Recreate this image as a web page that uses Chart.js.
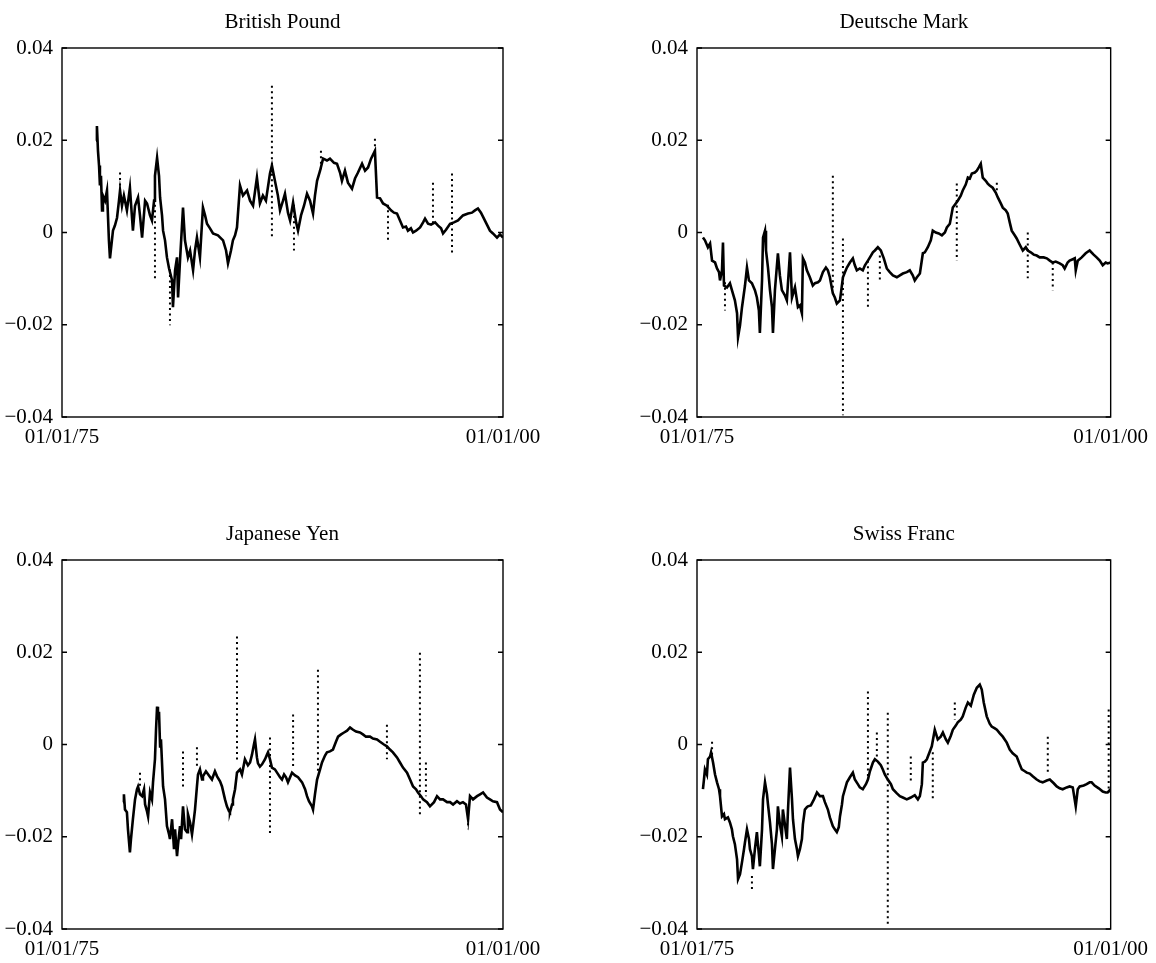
<!DOCTYPE html>
<html>
<head>
<meta charset="utf-8">
<script src="https://cdn.jsdelivr.net/npm/chart.js@4"></script>
<style>
  body { margin: 0; background: #fff; }
  canvas { position: absolute; }
</style>
</head>
<body>
<canvas id="bp" width="578" height="481" style="left:0;top:0"></canvas>
<canvas id="dm" width="578" height="481" style="left:578px;top:0"></canvas>
<canvas id="jy" width="578" height="481" style="left:0;top:512px"></canvas>
<canvas id="sf" width="578" height="481" style="left:578px;top:512px"></canvas>
<script>
// axis ticks
const xTickValues = [1975, 2000];
const xTickLabels = ['01/01/75', '01/01/00'];
const yTickValues = [-0.04, -0.02, 0, 0.02, 0.04];
const yTickLabels = ['\u22120.04', '\u22120.02', '0', '0.02', '0.04'];

// British Pound
const bpDates = [1976.93,1976.98,1977.04,1977.10,1977.15,1977.21,1977.27,1977.32,1977.44,1977.55,
  1977.66,1977.72,1977.83,1977.89,1978.00,1978.12,1978.23,1978.29,1978.40,1978.51,
  1978.68,1978.85,1979.02,1979.14,1979.31,1979.42,1979.54,1979.71,1979.82,1979.99,
  1980.10,1980.22,1980.27,1980.39,1980.50,1980.56,1980.67,1980.73,1980.84,1980.95,
  1981.07,1981.24,1981.29,1981.41,1981.52,1981.58,1981.69,1981.86,1981.97,1982.14,
  1982.26,1982.43,1982.54,1982.65,1982.82,1982.99,1983.11,1983.22,1983.39,1983.56,
  1983.84,1984.13,1984.30,1984.41,1984.58,1984.69,1984.81,1984.92,1985.09,1985.26,
  1985.49,1985.66,1985.83,1986.05,1986.22,1986.39,1986.56,1986.79,1986.90,1987.07,
  1987.24,1987.36,1987.53,1987.64,1987.81,1987.93,1988.10,1988.27,1988.38,1988.55,
  1988.72,1988.89,1989.06,1989.23,1989.34,1989.46,1989.63,1989.80,1990.02,1990.19,
  1990.42,1990.59,1990.76,1990.87,1991.04,1991.21,1991.44,1991.61,1991.78,1992.01,
  1992.18,1992.35,1992.52,1992.74,1992.86,1993.03,1993.20,1993.42,1993.65,1993.82,
  1993.99,1994.16,1994.33,1994.50,1994.61,1994.78,1994.90,1995.07,1995.30,1995.47,
  1995.58,1995.75,1995.92,1996.15,1996.32,1996.49,1996.60,1996.77,1997.00,1997.22,
  1997.45,1997.73,1998.02,1998.24,1998.41,1998.58,1998.75,1998.92,1999.09,1999.26,
  1999.43,1999.66,1999.83,2000.00];
const bpValues = [0.0199,0.0231,0.0177,0.0145,0.0102,0.0123,0.0048,0.0080,0.0069,0.0091,
  -0.0017,-0.0056,-0.0017,0.0004,0.0015,0.0032,0.0069,0.0091,0.0058,0.0080,
  0.0048,0.0097,0.0004,0.0058,0.0076,0.0037,-0.0011,0.0069,0.0063,0.0037,
  0.0026,0.0069,0.0123,0.0162,0.0123,0.0076,0.0037,0.0004,-0.0017,-0.0054,
  -0.0078,-0.0104,-0.0162,-0.0082,-0.0054,-0.0141,-0.0061,0.0054,-0.0017,-0.0054,
  -0.0039,-0.0082,-0.0039,-0.0011,-0.0054,0.0054,0.0037,0.0019,0.0009,-0.0002,
  -0.0006,-0.0017,-0.0039,-0.0067,-0.0039,-0.0017,-0.0006,0.0011,0.0102,0.0080,
  0.0091,0.0069,0.0058,0.0119,0.0063,0.0080,0.0069,0.0128,0.0145,0.0112,
  0.0080,0.0048,0.0069,0.0084,0.0043,0.0026,0.0065,0.0022,0.0004,0.0037,
  0.0058,0.0084,0.0069,0.0041,0.0080,0.0112,0.0134,0.0160,0.0156,0.0160,
  0.0151,0.0149,0.0130,0.0112,0.0134,0.0108,0.0095,0.0117,0.0130,0.0149,
  0.0134,0.0141,0.0160,0.0177,0.0076,0.0074,0.0063,0.0058,0.0048,0.0043,
  0.0041,0.0026,0.0011,0.0013,0.0004,0.0009,0,0.0004,0.0011,0.0022,
  0.0030,0.0019,0.0017,0.0022,0.0015,0.0009,-0.0002,0.0006,0.0019,0.0022,
  0.0026,0.0037,0.0041,0.0043,0.0048,0.0052,0.0043,0.0030,0.0017,0.0004,
  -0.0002,-0.0011,-0.0004,-0.0011];
const bpSpikeDates = [1978.29, 1980.27, 1981.12, 1986.90, 1988.15, 1989.68, 1992.74, 1993.48, 1996.03, 1997.11];
const bpSpikeHigh = [0.0130, 0.0060, -0.0080, 0.0318, 0.0060, 0.0177, 0.0203, 0.0060, 0.0108, 0.0128];
const bpSpikeLow = [0.0090, -0.0104, -0.0201, -0.0013, -0.0039, 0.0130, 0.0160, -0.0017, 0.0020, -0.0045];

// Deutsche Mark
const dmDates = [1975.36,1975.48,1975.66,1975.79,1975.91,1976.09,1976.21,1976.33,1976.39,1976.51,
  1976.57,1976.63,1976.81,1976.99,1977.11,1977.29,1977.42,1977.48,1977.60,1977.72,
  1977.90,1978.02,1978.14,1978.32,1978.50,1978.62,1978.74,1978.80,1978.93,1978.99,
  1979.11,1979.17,1979.29,1979.41,1979.53,1979.59,1979.71,1979.89,1980.01,1980.13,
  1980.31,1980.43,1980.62,1980.74,1980.92,1981.10,1981.22,1981.34,1981.40,1981.52,
  1981.64,1981.82,1982.00,1982.13,1982.31,1982.43,1982.61,1982.79,1982.91,1983.03,
  1983.21,1983.33,1983.45,1983.64,1983.82,1983.94,1984.06,1984.24,1984.42,1984.54,
  1984.66,1984.84,1985.02,1985.15,1985.33,1985.45,1985.63,1985.75,1985.93,1986.11,
  1986.29,1986.47,1986.65,1986.84,1987.08,1987.26,1987.44,1987.68,1987.86,1988.04,
  1988.16,1988.29,1988.47,1988.65,1988.77,1988.95,1989.13,1989.25,1989.43,1989.61,
  1989.80,1989.98,1990.10,1990.28,1990.46,1990.64,1990.76,1990.94,1991.06,1991.24,
  1991.37,1991.49,1991.61,1991.79,1991.91,1992.03,1992.15,1992.27,1992.45,1992.57,
  1992.69,1992.87,1993.06,1993.18,1993.36,1993.48,1993.66,1993.78,1993.90,1994.02,
  1994.20,1994.32,1994.50,1994.69,1994.87,1994.99,1995.17,1995.35,1995.53,1995.71,
  1995.95,1996.14,1996.32,1996.50,1996.68,1996.92,1997.10,1997.22,1997.40,1997.52,
  1997.71,1997.83,1997.89,1998.01,1998.25,1998.49,1998.73,1998.97,1999.15,1999.34,
  1999.52,1999.70,1999.82,2000.00];
const dmValues = [-0.0011,-0.0017,-0.0032,-0.0024,-0.0061,-0.0065,-0.0078,-0.0086,-0.0104,-0.0082,
  -0.0022,-0.0115,-0.0119,-0.0110,-0.0125,-0.0147,-0.0175,-0.0227,-0.0201,-0.0162,
  -0.0115,-0.0076,-0.0104,-0.0110,-0.0125,-0.0141,-0.0169,-0.0218,-0.0104,-0.0011,
  0.0004,-0.0039,-0.0076,-0.0125,-0.0162,-0.0218,-0.0125,-0.0045,-0.0093,-0.0125,
  -0.0136,-0.0147,-0.0043,-0.0141,-0.0119,-0.0162,-0.0158,-0.0175,-0.0056,-0.0065,
  -0.0082,-0.0097,-0.0115,-0.0110,-0.0108,-0.0104,-0.0086,-0.0076,-0.0082,-0.0097,
  -0.0132,-0.0141,-0.0154,-0.0147,-0.0097,-0.0086,-0.0076,-0.0065,-0.0056,-0.0071,
  -0.0082,-0.0078,-0.0082,-0.0071,-0.0061,-0.0054,-0.0043,-0.0039,-0.0032,-0.0039,
  -0.0056,-0.0078,-0.0086,-0.0093,-0.0097,-0.0093,-0.0089,-0.0086,-0.0082,-0.0093,
  -0.0104,-0.0097,-0.0089,-0.0045,-0.0043,-0.0032,-0.0017,0.0004,0,-0.0002,
  -0.0006,0,0.0011,0.0019,0.0054,0.0063,0.0069,0.0080,0.0091,0.0104,
  0.0119,0.0117,0.0128,0.0130,0.0134,0.0141,0.0149,0.0119,0.0112,0.0106,
  0.0102,0.0097,0.0086,0.0076,0.0063,0.0054,0.0048,0.0041,0.0022,0.0004,
  -0.0006,-0.0013,-0.0026,-0.0039,-0.0032,-0.0039,-0.0043,-0.0048,-0.0050,-0.0054,
  -0.0054,-0.0056,-0.0061,-0.0065,-0.0063,-0.0067,-0.0071,-0.0078,-0.0065,-0.0061,
  -0.0058,-0.0056,-0.0082,-0.0061,-0.0054,-0.0045,-0.0039,-0.0048,-0.0054,-0.0061,
  -0.0071,-0.0065,-0.0067,-0.0065];
const dmSpikeDates = [1976.69, 1983.21, 1983.82, 1985.33, 1986.05, 1990.70, 1993.12, 1994.99, 1996.50];
const dmSpikeHigh = [-0.0108, 0.0123, -0.0013, -0.0061, -0.0050, 0.0106, 0.0108, 0, -0.0065];
const dmSpikeLow = [-0.0169, -0.0125, -0.0396, -0.0162, -0.0104, -0.0061, 0.0086, -0.0099, -0.0125];

// Japanese Yen
const jyDates = [1978.46,1978.51,1978.57,1978.68,1978.74,1978.85,1978.91,1979.02,1979.14,1979.25,
  1979.31,1979.42,1979.54,1979.65,1979.71,1979.82,1979.88,1979.99,1980.10,1980.16,
  1980.27,1980.33,1980.39,1980.44,1980.50,1980.56,1980.61,1980.73,1980.84,1980.95,
  1981.07,1981.12,1981.24,1981.35,1981.41,1981.52,1981.58,1981.69,1981.75,1981.86,
  1981.97,1982.09,1982.14,1982.26,1982.37,1982.43,1982.54,1982.65,1982.71,1982.82,
  1982.94,1982.99,1983.16,1983.33,1983.50,1983.67,1983.79,1983.96,1984.07,1984.24,
  1984.35,1984.47,1984.52,1984.64,1984.69,1984.81,1984.92,1985.09,1985.20,1985.37,
  1985.54,1985.66,1985.77,1985.88,1985.94,1986.05,1986.11,1986.22,1986.34,1986.51,
  1986.62,1986.68,1986.79,1986.90,1987.07,1987.19,1987.36,1987.47,1987.59,1987.70,
  1987.81,1987.93,1988.04,1988.21,1988.38,1988.61,1988.78,1988.89,1989.00,1989.17,
  1989.23,1989.34,1989.46,1989.63,1989.74,1989.91,1990.02,1990.19,1990.36,1990.53,
  1990.65,1990.82,1990.99,1991.16,1991.33,1991.50,1991.67,1991.89,1992.06,1992.23,
  1992.46,1992.63,1992.86,1993.03,1993.25,1993.42,1993.59,1993.76,1993.99,1994.16,
  1994.33,1994.56,1994.73,1994.90,1995.07,1995.18,1995.35,1995.47,1995.69,1995.86,
  1996.09,1996.26,1996.43,1996.60,1996.83,1997.00,1997.17,1997.39,1997.56,1997.73,
  1997.90,1998.02,1998.13,1998.30,1998.53,1998.70,1998.87,1999.09,1999.26,1999.43,
  1999.66,1999.83,2000.00];
const jyValues = [-0.0125,-0.0108,-0.0141,-0.0147,-0.0184,-0.0234,-0.0205,-0.0162,-0.0119,-0.0097,
  -0.0091,-0.0108,-0.0112,-0.0097,-0.0130,-0.0145,-0.0156,-0.0104,-0.0119,-0.0082,
  -0.0032,0.0032,0.0082,0.0054,0.0071,-0.0004,0.0011,-0.0091,-0.0119,-0.0177,
  -0.0195,-0.0205,-0.0162,-0.0227,-0.0184,-0.0242,-0.0216,-0.0177,-0.0205,-0.0134,
  -0.0184,-0.0190,-0.0151,-0.0169,-0.0195,-0.0177,-0.0141,-0.0091,-0.0065,-0.0054,
  -0.0076,-0.0069,-0.0058,-0.0067,-0.0076,-0.0058,-0.0069,-0.0080,-0.0091,-0.0119,
  -0.0134,-0.0145,-0.0147,-0.0130,-0.0119,-0.0097,-0.0061,-0.0054,-0.0065,-0.0032,
  -0.0045,-0.0039,-0.0022,0,0.0011,-0.0028,-0.0041,-0.0048,-0.0043,-0.0032,
  -0.0022,-0.0017,-0.0032,-0.0050,-0.0054,-0.0061,-0.0071,-0.0076,-0.0065,-0.0071,
  -0.0082,-0.0071,-0.0061,-0.0067,-0.0071,-0.0082,-0.0097,-0.0112,-0.0123,-0.0134,
  -0.0141,-0.0108,-0.0076,-0.0054,-0.0039,-0.0024,-0.0017,-0.0015,-0.0011,0.0006,
  0.0017,0.0022,0.0026,0.0030,0.0037,0.0032,0.0028,0.0026,0.0022,0.0017,
  0.0017,0.0013,0.0011,0.0006,0,-0.0004,-0.0011,-0.0017,-0.0028,-0.0039,
  -0.0050,-0.0061,-0.0076,-0.0091,-0.0097,-0.0104,-0.0112,-0.0119,-0.0125,-0.0134,
  -0.0125,-0.0112,-0.0119,-0.0119,-0.0125,-0.0125,-0.0130,-0.0123,-0.0128,-0.0125,
  -0.0130,-0.0162,-0.0112,-0.0119,-0.0112,-0.0108,-0.0104,-0.0115,-0.0119,-0.0123,
  -0.0125,-0.0141,-0.0147];
const jySpikeDates = [1979.42, 1981.86, 1982.65, 1984.92, 1986.79, 1988.10, 1989.51, 1993.42, 1995.29, 1995.63, 1998.02];
const jySpikeHigh = [-0.0061, -0.0015, -0.0006, 0.0234, 0.0015, 0.0065, 0.0162, 0.0043, 0.0199, -0.0039, -0.0147];
const jySpikeLow = [-0.0091, -0.0097, -0.0048, -0.0039, -0.0199, -0.0048, -0.0061, -0.0032, -0.0156, -0.0112, -0.0184];

// Swiss Franc
const sfDates = [1975.36,1975.42,1975.48,1975.60,1975.66,1975.79,1975.85,1975.91,1975.97,1976.09,
  1976.21,1976.33,1976.39,1976.51,1976.63,1976.69,1976.87,1976.99,1977.11,1977.17,
  1977.29,1977.42,1977.48,1977.60,1977.72,1977.84,1977.90,1978.02,1978.14,1978.20,
  1978.32,1978.38,1978.50,1978.62,1978.68,1978.74,1978.80,1978.93,1978.99,1979.11,
  1979.23,1979.29,1979.41,1979.53,1979.59,1979.71,1979.83,1979.89,1980.01,1980.13,
  1980.19,1980.31,1980.43,1980.50,1980.62,1980.74,1980.80,1980.92,1981.04,1981.10,
  1981.22,1981.34,1981.40,1981.52,1981.64,1981.70,1981.88,1982.07,1982.25,1982.43,
  1982.61,1982.73,1982.91,1983.03,1983.21,1983.33,1983.45,1983.57,1983.64,1983.76,
  1983.82,1983.94,1984.06,1984.24,1984.42,1984.54,1984.72,1984.84,1985.02,1985.21,
  1985.33,1985.45,1985.63,1985.75,1985.93,1986.11,1986.23,1986.35,1986.53,1986.72,
  1986.84,1987.08,1987.26,1987.44,1987.68,1987.92,1988.16,1988.35,1988.47,1988.59,
  1988.65,1988.77,1988.89,1989.07,1989.19,1989.37,1989.55,1989.73,1989.86,1990.04,
  1990.16,1990.34,1990.46,1990.64,1990.76,1990.94,1991.06,1991.24,1991.37,1991.55,
  1991.73,1991.91,1992.09,1992.21,1992.33,1992.51,1992.69,1992.81,1993.00,1993.12,
  1993.30,1993.48,1993.72,1993.90,1994.08,1994.32,1994.50,1994.63,1994.81,1994.93,
  1995.11,1995.29,1995.53,1995.71,1995.89,1996.14,1996.32,1996.56,1996.74,1996.92,
  1997.10,1997.34,1997.52,1997.71,1997.89,1998.01,1998.13,1998.37,1998.55,1998.73,
  1998.85,1999.03,1999.28,1999.52,1999.70,1999.82,2000.00];
const sfValues = [-0.0097,-0.0076,-0.0054,-0.0065,-0.0032,-0.0026,-0.0017,-0.0028,-0.0039,-0.0065,
  -0.0082,-0.0097,-0.0112,-0.0156,-0.0151,-0.0162,-0.0158,-0.0169,-0.0184,-0.0199,
  -0.0216,-0.0249,-0.0292,-0.0281,-0.0255,-0.0227,-0.0212,-0.0184,-0.0205,-0.0227,
  -0.0242,-0.0270,-0.0227,-0.0190,-0.0216,-0.0238,-0.0264,-0.0184,-0.0119,-0.0082,
  -0.0108,-0.0130,-0.0169,-0.0216,-0.0270,-0.0227,-0.0184,-0.0134,-0.0173,-0.0199,
  -0.0141,-0.0173,-0.0205,-0.0141,-0.0050,-0.0119,-0.0162,-0.0205,-0.0227,-0.0242,
  -0.0227,-0.0205,-0.0173,-0.0141,-0.0136,-0.0134,-0.0132,-0.0119,-0.0104,-0.0112,
  -0.0112,-0.0125,-0.0141,-0.0158,-0.0177,-0.0184,-0.0190,-0.0179,-0.0156,-0.0130,
  -0.0112,-0.0097,-0.0082,-0.0071,-0.0061,-0.0076,-0.0086,-0.0093,-0.0097,-0.0086,
  -0.0076,-0.0058,-0.0039,-0.0032,-0.0037,-0.0045,-0.0054,-0.0065,-0.0076,-0.0086,
  -0.0097,-0.0106,-0.0112,-0.0115,-0.0119,-0.0115,-0.0110,-0.0119,-0.0112,-0.0086,
  -0.0039,-0.0037,-0.0032,-0.0015,-0.0004,0.0032,0.0011,0.0017,0.0026,0.0011,
  0.0004,0.0019,0.0032,0.0041,0.0048,0.0054,0.0061,0.0080,0.0091,0.0084,
  0.0108,0.0123,0.0130,0.0119,0.0091,0.0061,0.0045,0.0039,0.0035,0.0032,
  0.0024,0.0017,0.0004,-0.0011,-0.0019,-0.0026,-0.0043,-0.0054,-0.0058,-0.0061,
  -0.0063,-0.0069,-0.0076,-0.0080,-0.0082,-0.0078,-0.0076,-0.0084,-0.0091,-0.0095,
  -0.0097,-0.0093,-0.0091,-0.0093,-0.0134,-0.0097,-0.0091,-0.0089,-0.0086,-0.0082,
  -0.0082,-0.0089,-0.0095,-0.0102,-0.0104,-0.0104,-0.0097];
const sfSpikeDates = [1975.91, 1978.32, 1985.33, 1985.87, 1986.53, 1987.92, 1989.25, 1990.58, 1996.20, 1999.88];
const sfSpikeHigh = [0.0006, -0.0285, 0.0115, 0.0026, 0.0069, -0.0026, -0.0017, 0.0091, 0.0017, 0.0076];
const sfSpikeLow = [-0.0028, -0.0318, -0.0076, -0.0032, -0.0394, -0.0082, -0.0123, 0.0054, -0.0061, -0.0104];

const serif = 'Liberation Serif';

// box round the plot + inward ticks on both sides
const framePlugin = {
    id: 'frame',
    afterDraw(chart) {
        const ctx = chart.ctx;
        const a = chart.chartArea;
        const y = chart.scales.y;
        ctx.save();
        ctx.strokeStyle = '#000';
        ctx.lineWidth = 1.4;
        ctx.strokeRect(a.left, a.top, a.right - a.left, a.bottom - a.top);
        yTickValues.forEach(v => {
            let py = y.getPixelForValue(v);
            ctx.beginPath();
            ctx.moveTo(a.left, py);
            ctx.lineTo(a.left + 5, py);
            ctx.moveTo(a.right, py);
            ctx.lineTo(a.right - 5, py);
            ctx.stroke();
        });
        ctx.restore();
    }
};

function spikePoints(dates, high, low) {
    let pts = [];
    dates.forEach((d, i) => {
        pts.push({x: d, y: high[i]}, {x: d, y: low[i]}, {x: d, y: null});
    });
    return pts;
}

function drawPanel(id, title, dates, values, sDates, sHigh, sLow, axisWidth, rightPad) {
    let ctx = document.getElementById(id).getContext('2d');
    return new Chart(ctx, {
        type: 'line',
        data: {
            datasets: [{
                data: dates.map((d, i) => ({x: d, y: values[i]})),
                borderColor: '#000',
                borderWidth: 2.6,
                pointRadius: 0,
                tension: 0
            }, {
                data: spikePoints(sDates, sHigh, sLow),
                borderColor: '#000',
                borderWidth: 2,
                borderDash: [2, 3.5],
                pointRadius: 0,
                spanGaps: false
            }]
        },
        options: {
            responsive: false,
            animation: false,
            devicePixelRatio: 1,
            layout: { padding: { left: 0, right: rightPad, top: 0, bottom: 0 } },
            plugins: {
                legend: { display: false },
                tooltip: { enabled: false },
                title: {
                    display: true,
                    text: title,
                    fullSize: false,
                    color: '#000',
                    font: { family: serif, size: 21, weight: 'normal' },
                    padding: { top: 10, bottom: 12.8 }
                }
            },
            scales: {
                x: {
                    type: 'linear',
                    min: 1975,
                    max: 2000,
                    afterBuildTicks: axis => { axis.ticks = xTickValues.map(v => ({value: v})); },
                    afterFit: scale => { scale.height = 64; },
                    grid: { display: false, drawTicks: false },
                    border: { display: false },
                    ticks: {
                        autoSkip: false,
                        maxRotation: 0,
                        padding: 8,
                        color: '#000',
                        font: { family: serif, size: 21 },
                        callback: v => xTickLabels[xTickValues.indexOf(v)]
                    }
                },
                y: {
                    min: -0.04,
                    max: 0.04,
                    afterBuildTicks: axis => { axis.ticks = yTickValues.map(v => ({value: v})); },
                    afterFit: scale => { scale.width = axisWidth; },
                    grid: { display: false, drawTicks: false },
                    border: { display: false },
                    ticks: {
                        padding: 9,
                        color: '#000',
                        font: { family: serif, size: 21 },
                        callback: (v, i) => yTickLabels[i]
                    }
                }
            }
        },
        plugins: [framePlugin]
    });
}

drawPanel('bp', 'British Pound', bpDates, bpValues, bpSpikeDates, bpSpikeHigh, bpSpikeLow, 62, 75);
drawPanel('dm', 'Deutsche Mark', dmDates, dmValues, dmSpikeDates, dmSpikeHigh, dmSpikeLow, 119, 45);
drawPanel('jy', 'Japanese Yen', jyDates, jyValues, jySpikeDates, jySpikeHigh, jySpikeLow, 62, 75);
drawPanel('sf', 'Swiss Franc', sfDates, sfValues, sfSpikeDates, sfSpikeHigh, sfSpikeLow, 119, 45);
</script>
</body>
</html>
